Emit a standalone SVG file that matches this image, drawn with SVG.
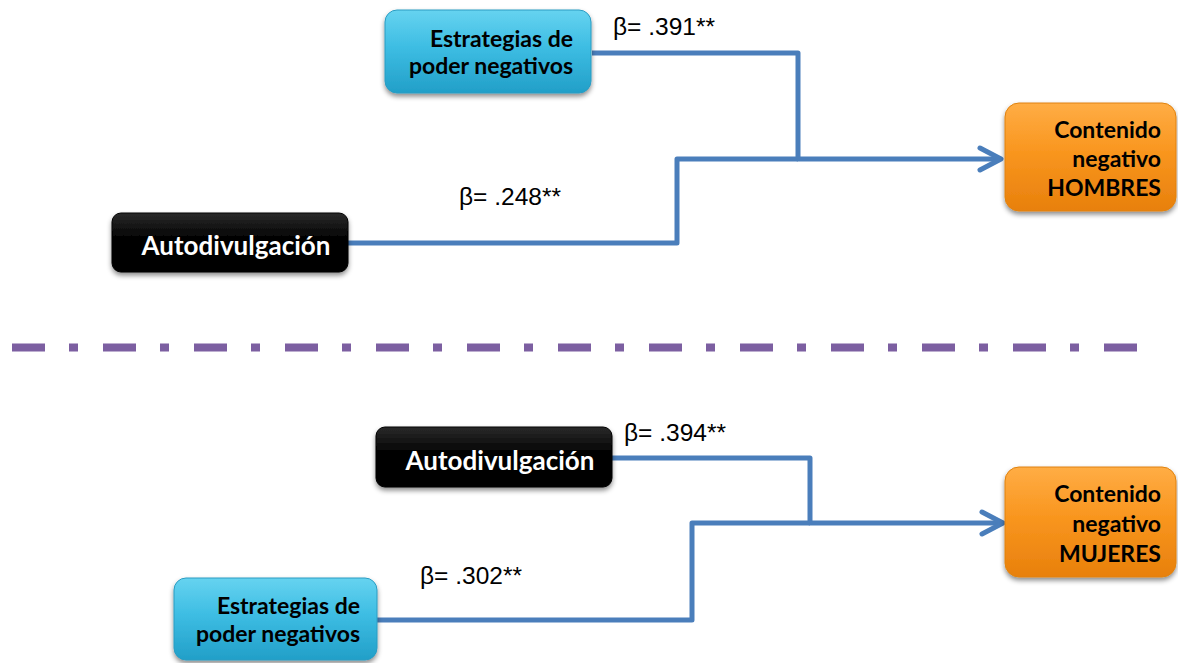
<svg xmlns="http://www.w3.org/2000/svg" width="1178" height="663" viewBox="0 0 1178 663">
  <defs>
    <linearGradient id="gCyan" x1="0" y1="0" x2="0" y2="1">
      <stop offset="0" stop-color="#66d3f0"/>
      <stop offset="0.45" stop-color="#3dbde3"/>
      <stop offset="1" stop-color="#229fc8"/>
    </linearGradient>
    <linearGradient id="gOrange" x1="0" y1="0" x2="0" y2="1">
      <stop offset="0" stop-color="#ffad45"/>
      <stop offset="0.45" stop-color="#f9961f"/>
      <stop offset="1" stop-color="#e8800c"/>
    </linearGradient>
    <linearGradient id="gBlack" x1="0" y1="0" x2="0" y2="1">
      <stop offset="0" stop-color="#2a2a2a"/>
      <stop offset="0.4" stop-color="#050505"/>
      <stop offset="1" stop-color="#000000"/>
    </linearGradient>
    <filter id="shadow" x="-10%" y="-15%" width="120%" height="140%">
      <feDropShadow dx="0" dy="3" stdDeviation="2.5" flood-color="#000" flood-opacity="0.45"/>
    </filter>
    <marker id="arrow" markerUnits="userSpaceOnUse" markerWidth="30" markerHeight="30" viewBox="-26 -15 30 30" refX="0" refY="0" orient="auto">
      <path d="M -21 -11 L 0 0 L -21 11" fill="none" stroke="#4a7ebb" stroke-width="5" stroke-linecap="round" stroke-linejoin="round"/>
    </marker>
    <style>
      .cyan { fill: url(#gCyan); stroke: #2b9cc2; stroke-width: 1; filter: url(#shadow); }
      .orange { fill: url(#gOrange); stroke: #e0820f; stroke-width: 1; filter: url(#shadow); }
      .black { fill: url(#gBlack); stroke: #000; stroke-width: 1; filter: url(#shadow); }
      .lbl { font-family: Lato, "Open Sans", sans-serif; font-weight: 700; font-size: 23px; fill: #000; }
      .lblw { font-family: Lato, "Open Sans", sans-serif; font-weight: 700; font-size: 26px; fill: #fff; text-anchor: middle; }
      .end { text-anchor: end; }
      .beta { font-family: "Liberation Sans", Arial, sans-serif; font-size: 24.5px; fill: #000; }
      .conn { fill: none; stroke: #4a7ebb; stroke-width: 5; stroke-linejoin: round; }
    </style>
  </defs>

  <rect width="1178" height="663" fill="#fff"/>

  <!-- connectors -->
  <g id="connectors">
    <path class="conn" d="M 592 53 H 798 V 159 H 1001" marker-end="url(#arrow)"/>
    <path class="conn" d="M 348 243 H 677 V 159 H 798"/>
    <path class="conn" d="M 612 458 H 810 V 523 H 1003" marker-end="url(#arrow)"/>
    <path class="conn" d="M 377 620 H 692 V 523 H 810"/>
  </g>

  <!-- coefficient labels -->
  <g id="coefficients">
    <text class="beta" x="613" y="35">β= .391**</text>
    <text class="beta" x="459" y="205">β= .248**</text>
    <text class="beta" x="624" y="441">β= .394**</text>
    <text class="beta" x="420" y="584">β= .302**</text>
  </g>

  <!-- separator -->
  <line id="separator" x1="12" y1="347.5" x2="1138" y2="347.5" stroke="#7c5fa1" stroke-width="8" stroke-dasharray="33 24 9 25"/>

  <!-- upper panel (HOMBRES) -->
  <g id="estrategias-h">
    <rect class="cyan" x="385" y="10" width="206" height="83" rx="12"/>
    <text class="lbl end" x="573" y="47">Estrategias de</text>
    <text class="lbl end" x="573" y="74">poder negativos</text>
  </g>
  <g id="autodivulgacion-h">
    <rect class="black" x="112" y="213" width="236" height="59" rx="9"/>
    <text class="lblw" x="236" y="255">Autodivulgación</text>
  </g>
  <g id="contenido-h">
    <rect class="orange" x="1005" y="103" width="171" height="108" rx="14"/>
    <text class="lbl end" x="1161" y="138">Contenido</text>
    <text class="lbl end" x="1161" y="167">negativo</text>
    <text class="lbl end" x="1161" y="196">HOMBRES</text>
  </g>

  <!-- lower panel (MUJERES) -->
  <g id="autodivulgacion-m">
    <rect class="black" x="376" y="427" width="236" height="60" rx="9"/>
    <text class="lblw" x="500" y="470">Autodivulgación</text>
  </g>
  <g id="estrategias-m">
    <rect class="cyan" x="174" y="578" width="203" height="82" rx="12"/>
    <text class="lbl end" x="360" y="614">Estrategias de</text>
    <text class="lbl end" x="360" y="642">poder negativos</text>
  </g>
  <g id="contenido-m">
    <rect class="orange" x="1005" y="467" width="171" height="110" rx="14"/>
    <text class="lbl end" x="1161" y="502">Contenido</text>
    <text class="lbl end" x="1161" y="532">negativo</text>
    <text class="lbl end" x="1161" y="562">MUJERES</text>
  </g>
</svg>
